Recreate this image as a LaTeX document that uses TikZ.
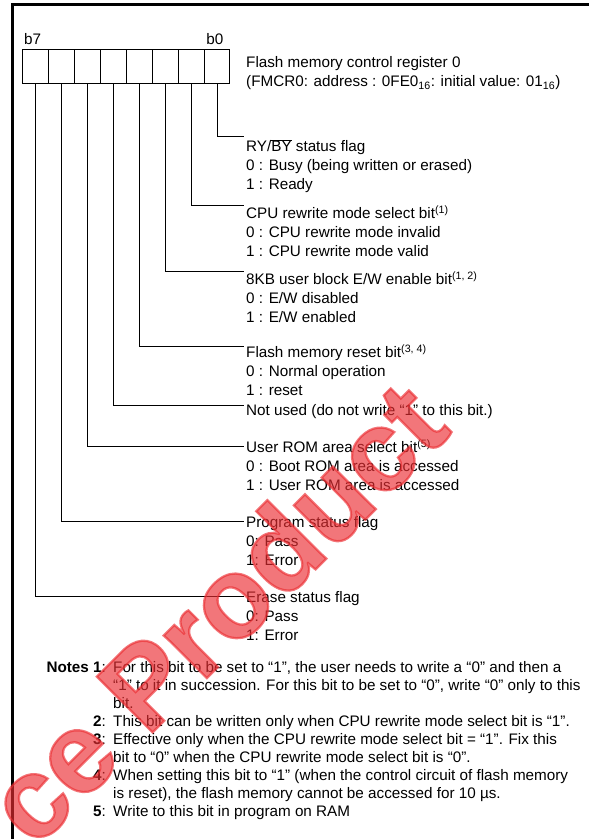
\documentclass[tikz,border=0pt]{standalone}
\usepackage{fontspec}
\setmainfont{Liberation Sans}
\usetikzlibrary{positioning, calc}
\definecolor{fmcrInk}{RGB}{0,0,0}
\definecolor{fmcrRed}{RGB}{235,45,50}

\begin{document}
\begin{tikzpicture}[x=1bp, y=-1bp,
    bitbox/.style={draw=fmcrInk, line width=0.9bp, minimum width=25.9bp, minimum height=34bp, inner sep=0pt},
    wire/.style={draw=fmcrInk, line width=0.9bp},
    desc/.style={anchor=north west, inner sep=0pt, align=left, font=\fontsize{15.3}{19}\selectfont, text=fmcrInk},
    bitlabel/.style={anchor=south, inner sep=0pt, font=\fontsize{15.3}{19}\selectfont},
    notenum/.style={anchor=north east, inner sep=0pt, font=\fontsize{15.3}{18}\selectfont},
    notetext/.style={anchor=north west, inner sep=0pt, align=left, font=\fontsize{15.3}{18}\selectfont},
    stamp/.style={text=fmcrRed, opacity=0.65, font=\fontsize{115}{115}\selectfont\bfseries\addfontfeature{FakeBold=2}, rotate=45, inner sep=0pt}
  ]
    \useasboundingbox (0,0) rectangle (589,839);
    \clip (0,0) rectangle (589,839);
    \draw[line width=3bp] (12,4.5) rectangle (620,870);

    \foreach \i in {0,...,7} {
      \node[bitbox] (bit\i) at (35.65+25.9*7-25.9*\i,66.3) {};
    }
    \node[bitlabel, xshift=-3bp, yshift=4bp] (lblb7) at (bit7.north) {b7};
    \node[bitlabel, xshift=-2bp, yshift=4bp] (lblb0) at (bit0.north) {b0};

    \node[desc] (title) at (246,54.4) {\strut Flash memory control register 0\\
      (FMCR0: address : 0FE0\textsubscript{16}: initial value: 01\textsubscript{16})};

    \node[desc] (desc0) at (246,138.4) {\strut RY/$\overline{\mbox{BY}}$ status flag\\0 : Busy (being written or erased)\\1 : Ready};
    \node[desc] (desc1) at (246,205.4) {\strut CPU rewrite mode select bit\textsuperscript{(1)}\\0 : CPU rewrite mode invalid\\1 : CPU rewrite mode valid};
    \node[desc] (desc2) at (246,271.4) {\strut 8KB user block E/W enable bit\textsuperscript{(1, 2)}\\0 : E/W disabled\\1 : E/W enabled};
    \node[desc] (desc3) at (246,344.4) {\strut Flash memory reset bit\textsuperscript{(3, 4)}\\0 : Normal operation\\1 : reset};
    \node[desc] (desc4) at (246,402.4) {\strut Not used (do not write “1” to this bit.)};
    \node[desc] (desc5) at (246,439.4) {\strut User ROM area select bit\textsuperscript{(5)}\\0 : Boot ROM area is accessed\\1 : User ROM area is accessed};
    \node[desc] (desc6) at (246,514.4) {\strut Program status flag\\0: Pass\\1: Error};
    \node[desc] (desc7) at (246,589.4) {\strut Erase status flag\\0: Pass\\1: Error};

    \foreach \b/\ly in {0/136,1/205,2/271,3/346,4/405,5/446,6/521,7/596} {
      \coordinate (tap\b) at (243.5,\ly);
      \draw[wire] (bit\b.south) |- (tap\b);
    }

    \node[notenum] (num1) at (106,660.1) {\strut\textbf{Notes 1}:};
    \node[notetext] (note1) at (113,660.1) {\strut For this bit to be set to “1”, the user needs to write a “0” and then a\\
      “1” to it in succession. For this bit to be set to “0”, write “0” only to this\\bit.};
    \node[notenum] (num2) at (106,714.1) {\strut\textbf{2}:};
    \node[notetext] (note2) at (113,714.1) {\strut This bit can be written only when CPU rewrite mode select bit is “1”.};
    \node[notenum] (num3) at (106,732.1) {\strut\textbf{3}:};
    \node[notetext] (note3) at (113,732.1) {\strut Effective only when the CPU rewrite mode select bit = “1”. Fix this\\
      bit to “0” when the CPU rewrite mode select bit is “0”.};
    \node[notenum] (num4) at (106,768.1) {\strut\textbf{4}:};
    \node[notetext] (note4) at (113,768.1) {\strut When setting this bit to “1” (when the control circuit of flash memory\\
      is reset), the flash memory cannot be accessed for 10 µs.};
    \node[notenum] (num5) at (106,804.1) {\strut\textbf{5}:};
    \node[notetext] (note5) at (113,804.1) {\strut Write to this bit in program on RAM};

    \node[stamp] (mark) at (215,612) {ce Product};
  \end{tikzpicture}
\end{document}
